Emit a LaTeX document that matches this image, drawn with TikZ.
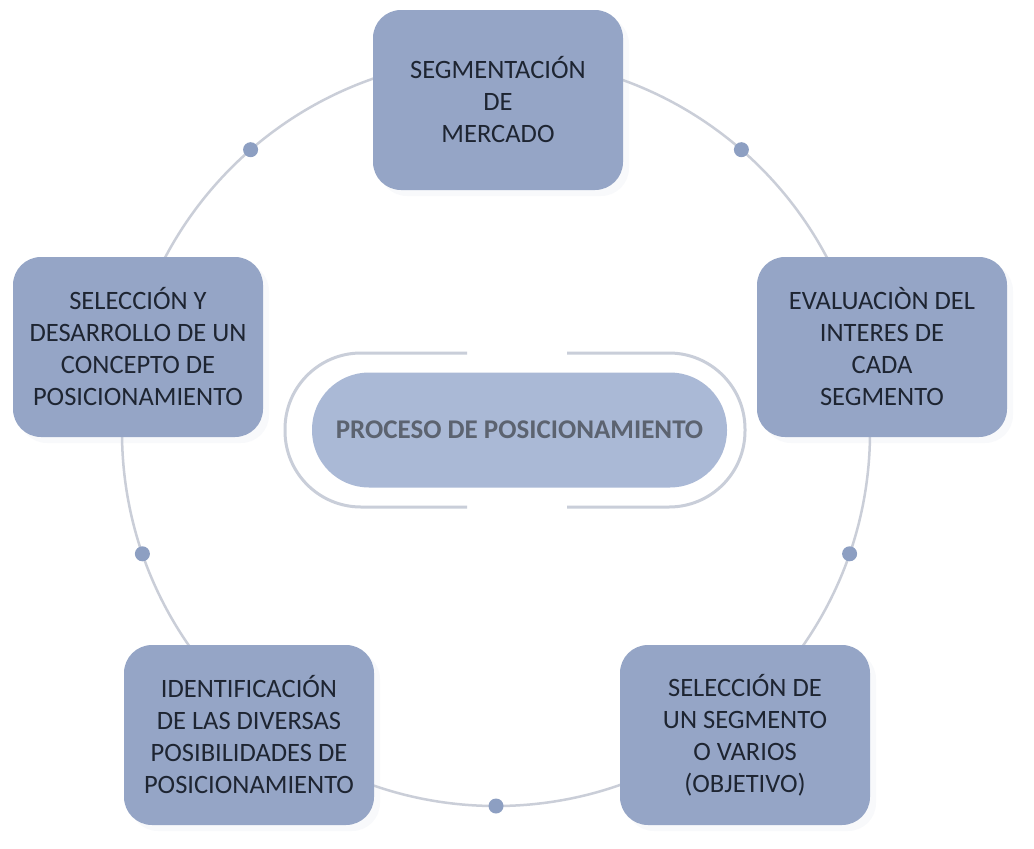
\documentclass[tikz,border=0pt]{standalone}
\usepackage{fontspec}
\setmainfont{Carlito}
\usetikzlibrary{shadows}
\definecolor{boxfill}{HTML}{95A5C6}
\definecolor{boxtext}{HTML}{1E2532}
\definecolor{ringline}{HTML}{CACED8}
\definecolor{dotfill}{HTML}{8D9FC2}
\definecolor{pillfill}{HTML}{AAB9D6}
\definecolor{pilltext}{HTML}{5C6370}
\definecolor{pillring}{HTML}{C9CED9}
\begin{document}
\begin{tikzpicture}[x=1pt,y=-1pt,
  stepbox/.style={rectangle, rounded corners=28pt, fill=boxfill,
    minimum width=250pt, minimum height=180pt, inner sep=0pt, align=center,
    font=\fontsize{26.5}{32}\selectfont, text=boxtext,
    drop shadow={shadow xshift=6pt, shadow yshift=-6pt, opacity=0.10, fill=boxfill!60}},
  ringdot/.style={circle, fill=dotfill, minimum size=15pt, inner sep=0pt},
  pill/.style={rectangle, rounded corners=57pt, fill=pillfill,
    minimum width=415pt, minimum height=115pt, inner sep=0pt,
    font=\fontsize{27}{32}\selectfont\bfseries, text=pilltext}]
\useasboundingbox[fill=white] (0,0) rectangle (1034,849);
% ring
\coordinate (C) at (496,432);
\draw[ringline, line width=2.5pt] (C) circle[radius=374];
\node[ringdot] (d1) at (250.6,149.7) {};
\node[ringdot] (d2) at (741.4,149.7) {};
\node[ringdot] (d3) at (142.4,553.8) {};
\node[ringdot] (d4) at (849.6,553.8) {};
\node[ringdot] (d5) at (496,806) {};
% boxes
\node[stepbox] (top) at (498,100) {SEGMENTACIÓN\\DE\\MERCADO};
\node[stepbox] (right) at (882,347) {EVALUACIÒN DEL\\INTERES DE\\CADA\\SEGMENTO};
\node[stepbox] (bright) at (745,735) {SELECCIÓN DE\\UN SEGMENTO\\O VARIOS\\(OBJETIVO)};
\node[stepbox] (bleft) at (249,735) {IDENTIFICACIÓN\\DE LAS DIVERSAS\\POSIBILIDADES DE\\POSICIONAMIENTO};
\node[stepbox] (left) at (138,347) {SELECCIÓN Y\\DESARROLLO DE UN\\CONCEPTO DE\\POSICIONAMIENTO};
% center pill
\draw[pillring, line width=3pt, rounded corners=76pt] (467,353) -- (285,353) -- (285,507) -- (467,507);
\draw[pillring, line width=3pt, rounded corners=76pt] (567,353) -- (745,353) -- (745,507) -- (567,507);
\node[pill] (center) at (519.5,430) {PROCESO DE POSICIONAMIENTO};
\end{tikzpicture}
\end{document}
